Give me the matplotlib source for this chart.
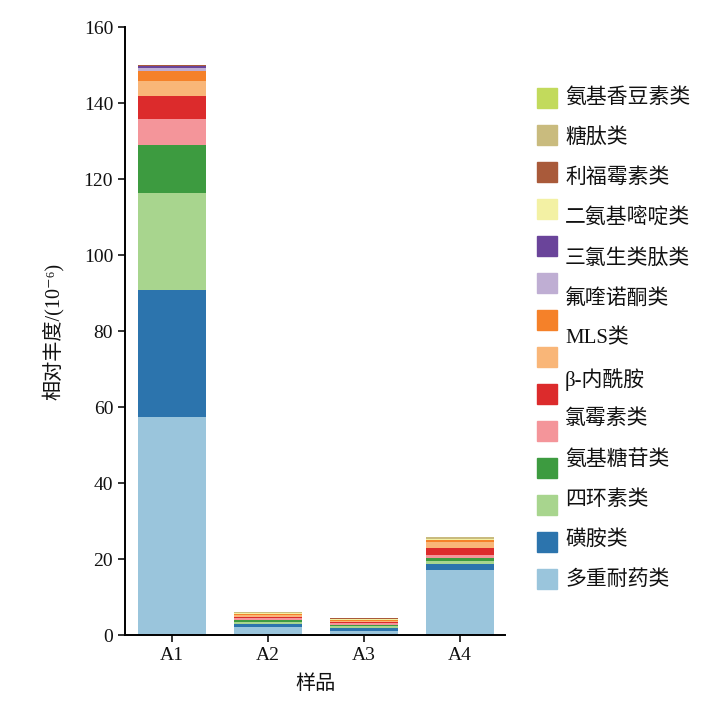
import numpy as np
import matplotlib
matplotlib.use("Agg")
from matplotlib import pyplot as plt
from matplotlib.patches import Rectangle

plt.rcParams['font.family'] = ['Liberation Serif', 'Noto Sans CJK SC', 'DejaVu Sans']

samples = ['A1', 'A2', 'A3', 'A4']

# stacked from the bottom up, values in 10^-6
multidrug      = [57.4, 2.0, 1.1, 17.2]
sulfonamide    = [33.4, 0.9, 0.8, 1.4]
tetracycline   = [25.5, 0.6, 0.4, 1.0]
aminoglycoside = [12.6, 0.4, 0.3, 0.6]
chloramphenicol = [6.9, 0.5, 0.5, 0.8]
beta_lactam    = [6.0, 0.3, 0.2, 2.0]
light_orange   = [4.0, 0.5, 0.4, 1.6]
mls            = [2.6, 0.3, 0.2, 0.3]
quinolone      = [0.8, 0.1, 0.05, 0.1]
triclosan      = [0.5, 0.05, 0.05, 0.05]
diaminopyrimidine = [0.1, 0.1, 0.1, 0.2]
rifamycin      = [0.1, 0.1, 0.25, 0.1]
glycopeptide   = [0.1, 0.15, 0.05, 0.5]
aminocoumarin  = [0.05, 0.05, 0.05, 0.05]

series = [multidrug, sulfonamide, tetracycline, aminoglycoside, chloramphenicol,
          beta_lactam, light_orange, mls, quinolone, triclosan,
          diaminopyrimidine, rifamycin, glycopeptide, aminocoumarin]
colors = ['#9ac5dc', '#2c74ad', '#a8d58e', '#3d9b40', '#f4959a', '#dc2b2c',
          '#f9b678', '#f58129', '#bfaed3', '#6a449a', '#f3f1a4', '#a95a3a',
          '#c9bb7e', '#c2da5c']

# legend labels, top to bottom (13 labels against 14 swatches, as in the figure)
legend_labels = ['氨基香豆素类', '糖肽类', '利福霉素类', '二氨基嘧啶类', '三氯生类肽类',
                 '氟喹诺酮类', 'MLS类', 'β-内酰胺', '氯霉素类', '氨基糖苷类',
                 '四环素类', '磺胺类', '多重耐药类']

W, H = 727, 703
fig = plt.figure(figsize=(W / 100, H / 100), dpi=100)
ax = fig.add_axes([125 / W, 1 - 635 / H, (505 - 125) / W, (635 - 27) / H])

x = np.arange(len(samples))
bottom = np.zeros(len(samples))
for vals, c in zip(series, colors):
    ax.bar(x, vals, width=0.71, bottom=bottom, color=c, linewidth=0)
    bottom += np.array(vals)

ax.set_xlim(-0.49, 3.47)
ax.set_ylim(0, 160)
ax.set_yticks(range(0, 161, 20))
ax.set_xticks(x)
ax.set_xticklabels(samples)
ax.spines['top'].set_visible(False)
ax.spines['right'].set_visible(False)
ax.spines['left'].set_linewidth(1.4)
ax.spines['bottom'].set_linewidth(1.4)
ax.tick_params(axis='both', labelsize=14, width=1.2, length=5, colors='#111111')
ax.set_xlabel('样品', fontsize=14.5, labelpad=8, color='#111111')
ax.set_ylabel('相对丰度/(10⁻⁶)', fontsize=14.5, labelpad=14, color='#111111')

# legend drawn by hand: swatches and texts are spaced differently in the original
for i, c in enumerate(reversed(colors)):
    yc = 98 + i * 37.0
    fig.patches.append(Rectangle((537 / W, 1 - (yc + 10) / H), 20 / W, 20 / H,
                                 transform=fig.transFigure, color=c, figure=fig))
for j, lab in enumerate(legend_labels):
    yc = 98 + j * 40.2
    fig.text(565 / W, 1 - yc / H, lab, fontsize=15, va='center', ha='left', color='#111111')

fig.savefig('out.png', dpi=100)
